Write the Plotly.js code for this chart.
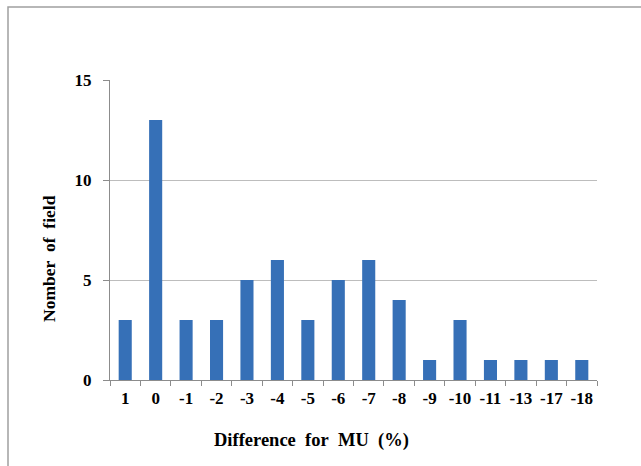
<!DOCTYPE html>
<html>
<head>
<meta charset="utf-8">
<script src="https://cdn.plot.ly/plotly-3.0.1.min.js"></script>
<style>
  html, body { margin: 0; padding: 0; background: #fff; }
  #chart { width: 641px; height: 466px; }
</style>
</head>
<body>
<div id="chart"></div>
<script>
const categories = ["1", "0", "-1", "-2", "-3", "-4", "-5", "-6", "-7", "-8", "-9", "-10", "-11", "-13", "-17", "-18"];
const fieldCounts = [3, 13, 3, 3, 5, 6, 3, 5, 6, 4, 1, 3, 1, 1, 1, 1];
const yTicks = [0, 5, 10, 15];
const xTitle = 'Difference\u00a0 for\u00a0 MU\u00a0 (%)';
const yTitle = 'Nomber\u00a0 of\u00a0 field';

const serif = "Liberation Serif";
const W = 641, H = 466, ML = 110, MR = 44, MT = 80, MB = 86;
const PW = W - ML - MR, PH = H - MT - MB;

const trace = {
  type: 'bar',
  x: categories,
  y: fieldCounts,
  marker: { color: '#3670b7', line: { width: 0 } },
  hoverinfo: 'x+y'
};

const layout = {
  width: W,
  height: H,
  margin: { l: ML, r: MR, t: MT, b: MB },
  paper_bgcolor: '#ffffff',
  plot_bgcolor: '#ffffff',
  showlegend: false,
  bargap: 0.57,
  font: { family: serif, size: 17, color: '#000', weight: 'bold' },
  xaxis: {
    type: 'category',
    showline: true,
    linecolor: '#8c8c8c',
    linewidth: 1,
    ticks: 'outside',
    tickson: 'boundaries',
    ticklen: 5,
    tickcolor: '#8c8c8c',
    tickangle: 0,
    ticklabelstandoff: 3,
    showgrid: false,
    tickfont: { family: serif, size: 17, color: '#000', weight: 'bold' },
    fixedrange: true
  },
  yaxis: {
    range: [0, 15],
    tickvals: yTicks,
    showline: true,
    linecolor: '#8c8c8c',
    linewidth: 1,
    ticks: 'outside',
    ticklen: 6,
    tickcolor: '#8c8c8c',
    ticklabelstandoff: 8,
    showgrid: true,
    gridcolor: '#bdbdbd',
    gridwidth: 1,
    zeroline: false,
    tickfont: { family: serif, size: 17, color: '#000', weight: 'bold' },
    fixedrange: true
  },
  annotations: [
    {
      text: xTitle, xref: 'paper', yref: 'paper',
      x: (311 - ML) / PW, y: (H - MB - 440) / PH,
      xanchor: 'center', yanchor: 'middle', showarrow: false,
      font: { family: serif, size: 18.5, color: '#000', weight: 'bold' }
    },
    {
      text: yTitle, xref: 'paper', yref: 'paper',
      x: (49 - ML) / PW, y: (H - MB - 259) / PH,
      xanchor: 'center', yanchor: 'middle', showarrow: false, textangle: -90,
      font: { family: serif, size: 17.5, color: '#000', weight: 'bold' }
    }
  ],
  shapes: [
    {
      type: 'rect', xref: 'paper', yref: 'paper',
      x0: (8 - ML) / PW, x1: (660 - ML) / PW,
      y0: -1, y1: (H - 7 - MB) / PH,
      line: { color: '#a0a0a0', width: 1.5 },
      fillcolor: 'rgba(0,0,0,0)',
      layer: 'below'
    }
  ]
};

Plotly.newPlot('chart', [trace], layout, { displayModeBar: false, staticPlot: true });
</script>
</body>
</html>
